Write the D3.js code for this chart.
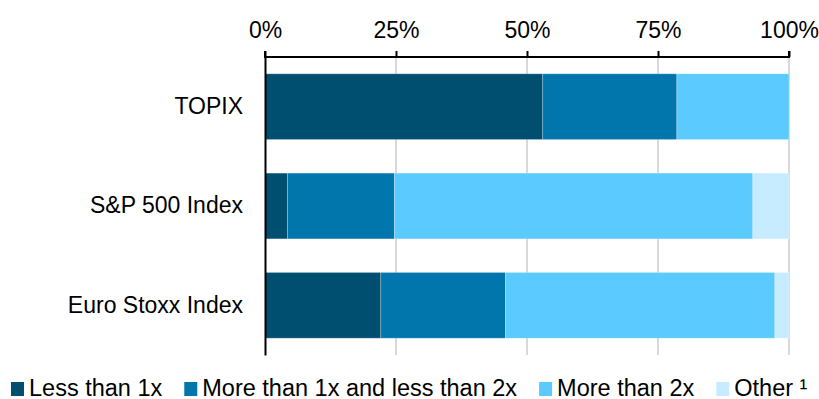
<!DOCTYPE html>
<html>
<head>
<meta charset="utf-8">
<script src="https://cdn.jsdelivr.net/npm/d3@7"></script>
<style>
  body { margin: 0; background: #fff; }
  svg text { font-family: "Liberation Sans", Arial, sans-serif; fill: #000; }
</style>
</head>
<body>
<div id="chart"></div>
<script>
// data (share of companies by price-to-book bucket, %)
const categories = ['TOPIX', 'S&P 500 Index', 'Euro Stoxx Index'];
const seriesNames = ['Less than 1x', 'More than 1x and less than 2x', 'More than 2x', 'Other \u00B9'];
const lessThan1x = [53.0, 4.3, 22.1];
const between1x2x = [25.6, 20.4, 23.8];
const moreThan2x = [21.4, 68.4, 51.4];
const other = [0.0, 6.9, 2.7];
const tickValues = [0, 25, 50, 75, 100];
const colors = ['#004f71', '#0076ad', '#5bcbff', '#c8ecff'];

const width = 819, height = 399;
const margin = {top: 57, bottom: 44, left: 265, right: 30};

const svg = d3.select('#chart').append('svg')
    .attr('width', width)
    .attr('height', height);

// build rows for the stack
const rows = categories.map((c, i) => ({
    cat: c, s0: lessThan1x[i], s1: between1x2x[i], s2: moreThan2x[i], s3: other[i]
}));
const stack = d3.stack().keys(['s0', 's1', 's2', 's3'])(rows);

const x = d3.scaleLinear([0, 100], [margin.left, width - margin.right]);
const y = d3.scaleBand(categories, [margin.top, height - margin.bottom])
    .paddingInner(0.338)
    .paddingOuter(0.169);

// gridlines
svg.append('g')
    .selectAll('line')
    .data(tickValues.slice(1))
    .join('line')
    .attr('x1', d => x(d)).attr('x2', d => x(d))
    .attr('y1', margin.top).attr('y2', height - margin.bottom)
    .attr('stroke', '#d9d9d9')
    .attr('stroke-width', 2);

// bars
svg.append('g')
    .selectAll('g')
    .data(stack)
    .join('g')
    .attr('fill', (d, i) => colors[i])
    .selectAll('rect')
    .data(d => d)
    .join('rect')
    .attr('x', d => x(d[0]))
    .attr('y', d => y(d.data.cat))
    .attr('width', d => x(d[1]) - x(d[0]))
    .attr('height', y.bandwidth())
    .attr('stroke', 'rgba(255,255,255,0.3)')
    .attr('stroke-width', 0.8);

// top axis
const axisTop = svg.append('g')
    .attr('transform', `translate(0,${margin.top})`)
    .call(d3.axisTop(x).tickValues(tickValues).tickFormat(d => d + '%').tickSize(6).tickPadding(13));
axisTop.select('.domain').attr('stroke', '#000').attr('stroke-width', 2)
    .attr('d', `M${x(0)},-6V0H${x(100)}V-6`);
axisTop.selectAll('.tick line').attr('stroke', '#000').attr('stroke-width', 2);
axisTop.selectAll('.tick text')
    .style('font-size', '23px')
    .style('font-family', '"Liberation Sans", Arial, sans-serif');

// left axis
const axisLeft = svg.append('g')
    .attr('transform', `translate(${margin.left},0)`)
    .call(d3.axisLeft(y).tickSize(0).tickPadding(22));
axisLeft.select('.domain').attr('stroke', '#000').attr('stroke-width', 2);
axisLeft.selectAll('.tick text')
    .style('font-size', '23px')
    .style('font-family', '"Liberation Sans", Arial, sans-serif');

// legend
const legend = svg.append('g').attr('transform', 'translate(11,0)');
let lx = 0;
seriesNames.forEach((name, i) => {
    const item = legend.append('g').attr('transform', `translate(${lx},0)`);
    item.append('rect')
        .attr('x', 0).attr('y', 382)
        .attr('width', 13).attr('height', 14)
        .attr('fill', colors[i]);
    const t = item.append('text')
        .attr('x', 18).attr('y', 395.5)
        .style('font-size', '23.5px')
        .text(name);
    lx += 18 + t.node().getComputedTextLength() + 22;
});
</script>
</body>
</html>
